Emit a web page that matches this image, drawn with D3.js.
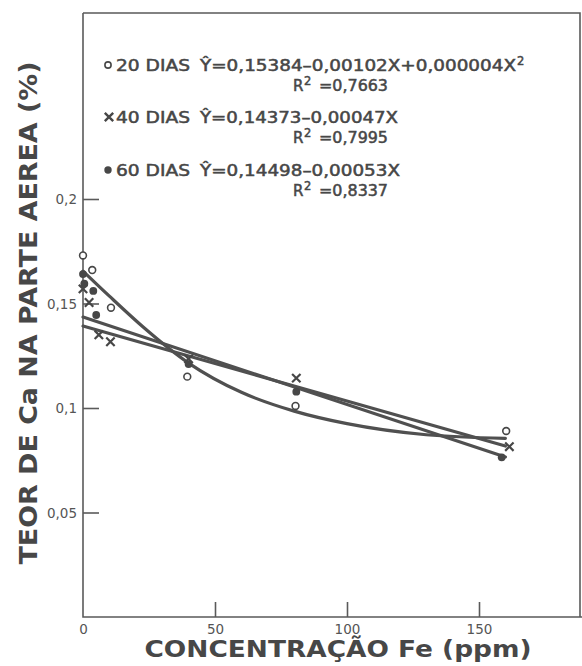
<!DOCTYPE html>
<html>
<head>
<meta charset="utf-8">
<script src="https://cdn.jsdelivr.net/npm/d3@7"></script>
<style>
  html, body { margin: 0; padding: 0; background: #ffffff; }
  svg { display: block; }
</style>
</head>
<body>
<script>
// Axis ticks
const xTicks = [0, 50, 100, 150];
const yTicks = [0.05, 0.1, 0.15, 0.2];

// Observed Ca contents (%) by Fe concentration (ppm)
const days20X = [0, 3.5, 10.6, 39.5, 80.5, 160.3];
const days20Y = [0.173, 0.166, 0.148, 0.115, 0.101, 0.089];
const days40X = [0, 2.3, 6, 10.4, 40, 80.8, 161.5];
const days40Y = [0.157, 0.1505, 0.135, 0.1317, 0.1235, 0.1143, 0.0815];
const days60X = [0, 0.5, 3.9, 5, 40, 80.8, 158.6];
const days60Y = [0.1641, 0.1595, 0.156, 0.1445, 0.121, 0.1078, 0.0764];

// Fitted curves as drawn on the figure
const fit20X = [0, 10, 23, 40, 60, 80, 100, 130, 160];
const fit20Y = [0.1655, 0.1535, 0.1385, 0.1215, 0.1075, 0.0985, 0.0925, 0.0872, 0.0855];
const fit40X = [0, 160];
const fit40Y = [0.1392, 0.0818];
const fit60X = [0, 160];
const fit60Y = [0.1435, 0.0766];

// Legend texts
const seriesNames = ["20 DIAS", "40 DIAS", "60 DIAS"];
const equations = ["Ŷ=0,15384–0,00102X+0,000004X", "Ŷ=0,14373–0,00047X", "Ŷ=0,14498–0,00053X"];
const eqSuper = ["2", "", ""];
const r2Values = ["=0,7663", "=0,7995", "=0,8337"];

const xTitle = "CONCENTRAÇÃO Fe (ppm)";
const yTitle = "TEOR DE Ca NA PARTE AEREA (%)";

const W = 582, H = 666;
const ink = "#474747";
const lineInk = "#505050";
const font = "'DejaVu Sans', sans-serif";

const svg = d3.select("body").append("svg")
  .attr("width", W).attr("height", H)
  .attr("viewBox", `0 0 ${W} ${H}`);

svg.append("rect").attr("width", W).attr("height", H).attr("fill", "#ffffff");

const x = d3.scaleLinear().domain([0, 150]).range([83, 479]);
const y = d3.scaleLinear().domain([0, 0.2]).range([617, 199]);

const fmt = d => String(d).replace(".", ",");

// Frame
svg.append("path")
  .attr("d", `M83,13 H580 V617 M83,13 V617 H582`)
  .attr("fill", "none")
  .attr("stroke", "#5a5a5a")
  .attr("stroke-width", 1.6);

// Y axis
const gy = svg.append("g")
  .attr("transform", "translate(83,0)")
  .call(d3.axisLeft(y).tickValues(yTicks).tickSize(-16).tickPadding(6).tickFormat(fmt));
gy.select(".domain").remove();
gy.selectAll(".tick line").attr("stroke", "#5a5a5a").attr("stroke-width", 1.6);
gy.selectAll(".tick text")
  .attr("fill", "#555").attr("font-family", font).attr("font-size", 13.5)
  .attr("dy", "0.36em");

// X axis
const gx = svg.append("g")
  .attr("transform", "translate(0,617)")
  .call(d3.axisBottom(x).tickValues(xTicks).tickSize(-15).tickPadding(7).tickFormat(fmt));
gx.select(".domain").remove();
gx.selectAll(".tick line").attr("stroke", "#5a5a5a").attr("stroke-width", 1.6)
  .filter(d => d === 0).remove();
gx.selectAll(".tick text")
  .attr("fill", "#555").attr("font-family", font).attr("font-size", 13.5);

// Axis titles
svg.append("text")
  .attr("x", 338).attr("y", 657)
  .attr("text-anchor", "middle")
  .attr("font-family", font).attr("font-weight", "bold").attr("font-size", 23)
  .attr("fill", ink)
  .attr("textLength", 387).attr("lengthAdjust", "spacingAndGlyphs")
  .text(xTitle);

svg.append("text")
  .attr("transform", "translate(37,313) rotate(-90)")
  .attr("text-anchor", "middle")
  .attr("font-family", font).attr("font-weight", "bold").attr("font-size", 24)
  .attr("fill", ink)
  .attr("textLength", 503).attr("lengthAdjust", "spacingAndGlyphs")
  .text(yTitle);

// Fitted curves
const zip = (xs, ys) => xs.map((v, i) => [v, ys[i]]);
const line = d3.line().x(d => x(d[0])).y(d => y(d[1]));
const curve = d3.line().x(d => x(d[0])).y(d => y(d[1])).curve(d3.curveMonotoneX);

const fits = svg.append("g").attr("fill", "none").attr("stroke", lineInk)
  .attr("stroke-width", 3.2).attr("stroke-linecap", "round");
fits.append("path").attr("d", curve(zip(fit20X, fit20Y)));
fits.append("path").attr("d", line(zip(fit40X, fit40Y)));
fits.append("path").attr("d", line(zip(fit60X, fit60Y)));

// Markers
const crossPath = s => `M${-s},${-s}L${s},${s}M${-s},${s}L${s},${-s}`;

svg.append("g").selectAll("path")
  .data(zip(days40X, days40Y)).join("path")
  .attr("transform", d => `translate(${x(d[0])},${y(d[1])})`)
  .attr("d", crossPath(4.2))
  .attr("stroke", ink).attr("stroke-width", 2.2).attr("fill", "none");

svg.append("g").selectAll("circle")
  .data(zip(days60X, days60Y)).join("circle")
  .attr("cx", d => x(d[0])).attr("cy", d => y(d[1])).attr("r", 3.9)
  .attr("fill", ink);

svg.append("g").selectAll("circle")
  .data(zip(days20X, days20Y)).join("circle")
  .attr("cx", d => x(d[0])).attr("cy", d => y(d[1])).attr("r", 3.4)
  .attr("fill", "#ffffff").attr("stroke", ink).attr("stroke-width", 1.6);

// Legend
const rowY = [65, 117, 170];
const eqEnd = [516, 398, 400];
const legend = svg.append("g")
  .attr("font-family", font).attr("font-size", 15).attr("fill", ink)
  .attr("stroke", ink).attr("stroke-width", 0.5);

legend.append("circle").attr("cx", 108).attr("cy", rowY[0]).attr("r", 3.1)
  .attr("fill", "#fff").attr("stroke", ink).attr("stroke-width", 1.6);
legend.append("path").attr("transform", `translate(109,${rowY[1]})`).attr("d", crossPath(4.2))
  .attr("stroke-width", 2.4).attr("fill", "none");
legend.append("circle").attr("cx", 108).attr("cy", rowY[2]).attr("r", 3.7).attr("stroke", "none");

seriesNames.forEach((name, i) => {
  const base = rowY[i] + 5.5;
  legend.append("text").attr("x", 116).attr("y", base)
    .attr("textLength", 74).attr("lengthAdjust", "spacingAndGlyphs").text(name);
  legend.append("text").attr("x", 200).attr("y", base)
    .attr("textLength", eqEnd[i] - 200).attr("lengthAdjust", "spacingAndGlyphs").text(equations[i]);
  if (eqSuper[i]) {
    legend.append("text").attr("x", 517).attr("y", base - 6)
      .attr("font-size", 11.5).text(eqSuper[i]);
  }
  const rb = base + 20;
  legend.append("text").attr("x", 293).attr("y", rb).text("R");
  legend.append("text").attr("x", 304).attr("y", rb - 6).attr("font-size", 11.5).text("2");
  legend.append("text").attr("x", 319).attr("y", rb)
    .attr("textLength", 69).attr("lengthAdjust", "spacingAndGlyphs").text(r2Values[i]);
});
</script>
</body>
</html>
